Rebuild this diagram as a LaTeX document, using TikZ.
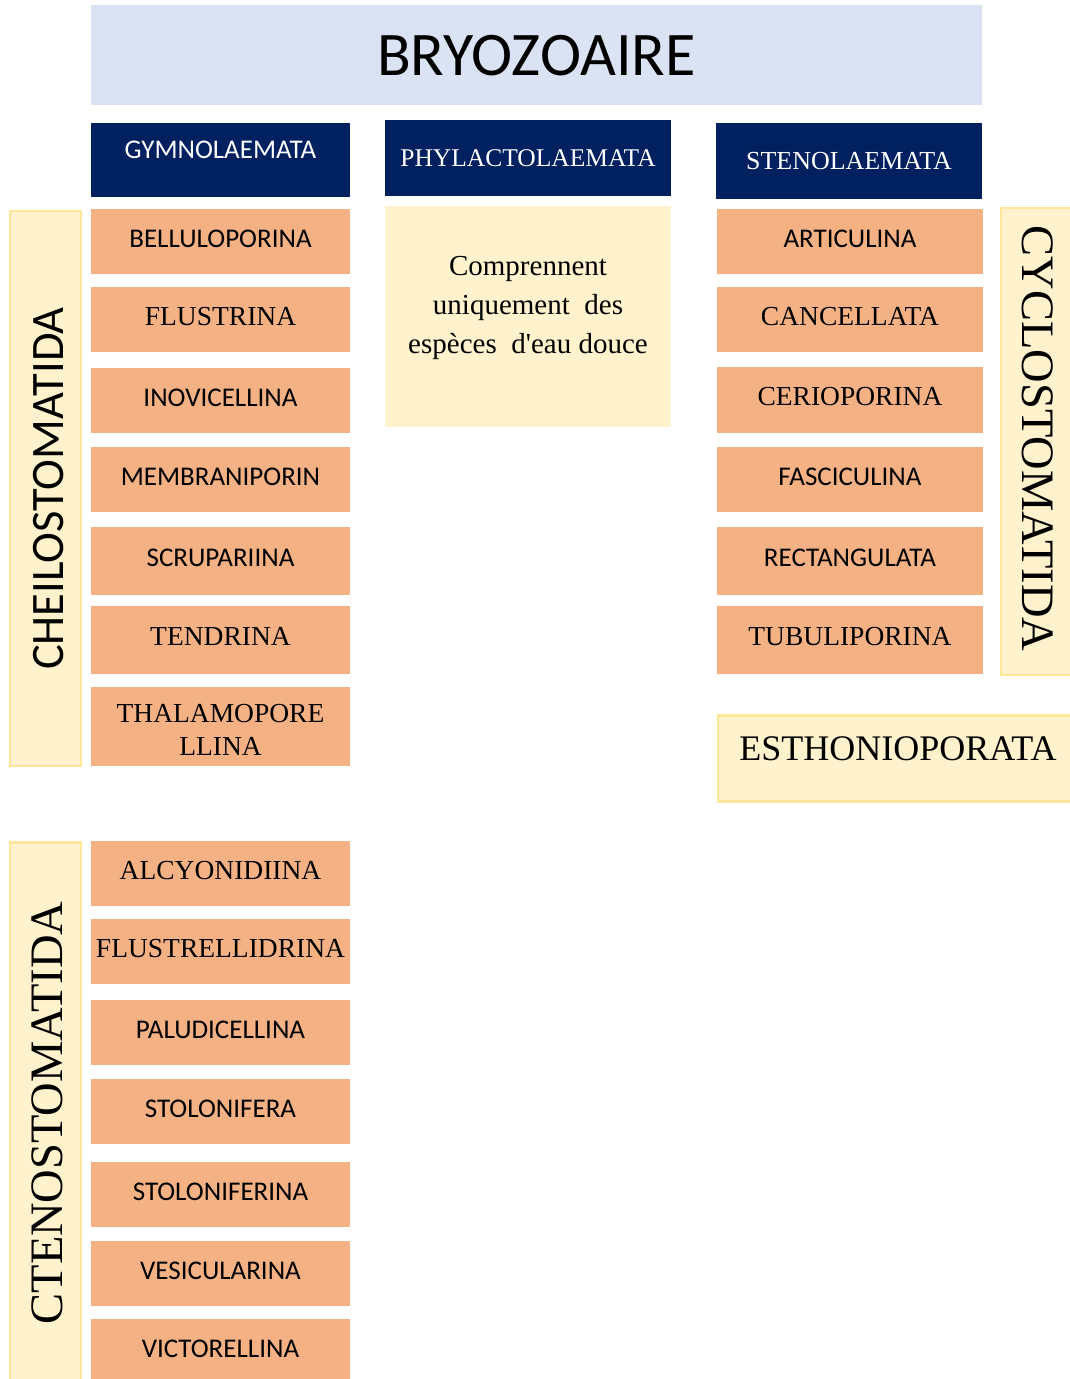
\documentclass[tikz,border=0pt]{standalone}
\usepackage{fontspec}
\setmainfont{Liberation Serif}
\newfontfamily\calib{Carlito}
\newfontfamily\plainserif{Liberation Serif}[Ligatures=TeXOff]
\definecolor{navy}{HTML}{002060}
\definecolor{peach}{HTML}{F4B183}
\definecolor{cream}{HTML}{FFF2CC}
\definecolor{creamline}{HTML}{FFE699}
\definecolor{paleblue}{HTML}{DAE3F3}
\tikzset{
  subbox/.style={fill=peach, inner sep=0pt, minimum width=259pt, minimum height=65pt, text height=18pt, text depth=7pt},
  subboxR/.style={subbox, minimum width=266pt},
  sansT/.style={font=\calib\fontsize{27}{32}\selectfont},
  serifT/.style={font=\fontsize{27.5}{32}\selectfont},
  classbox/.style={fill=navy, text=white, inner sep=0pt},
  orderbox/.style={fill=cream, draw=creamline, line width=2.5pt, inner sep=0pt},
}
\begin{document}
\begin{tikzpicture}[x=1pt,y=-1pt]
\clip (0,0) rectangle (1070,1379);
\fill[white] (0,0) rectangle (1070,1379);
% title
\node[fill=paleblue, minimum width=891pt, minimum height=100pt, inner sep=0pt, font=\calib\fontsize{62}{70}\selectfont, text height=40pt, text depth=0pt] (root) at (536.5,55) {BRYOZOAIRE};
% classes
\node[classbox, minimum width=259pt, minimum height=74pt, font=\calib\fontsize{27}{30}\selectfont, text height=17pt, text depth=21pt] (gym) at (220.5,160) {GYMNOLAEMATA};
\node[classbox, minimum width=286pt, minimum height=76pt, font=\fontsize{25.5}{28}\selectfont, text height=16pt, text depth=0pt] (phy) at (528,158) {PHYLACTOLAEMATA};
\node[classbox, minimum width=266pt, minimum height=76pt, font=\fontsize{26}{30}\selectfont, text height=17pt, text depth=0pt] (sten) at (849,161) {STENOLAEMATA};
% phylactolaemata note
\node[fill=cream, minimum width=286pt, minimum height=221pt, inner sep=0pt] (note) at (528,316.5) {};
\node[font=\plainserif\fontsize{29}{39}\selectfont, align=center, inner sep=0pt] (notetext) at ([yshift=9pt]note.center) {Comprennent\\uniquement\ \ des\\esp\`eces\ \ d'eau douce};
% orders (vertical)
\node[orderbox, minimum width=71pt, minimum height=555pt] (cheilo) at (45.5,488.5) {};
\node[rotate=90, font=\calib\fontsize{46.5}{56}\selectfont, inner sep=0pt] (cheilotext) at ([xshift=3pt]cheilo.center) {CHEILOSTOMATIDA};
\node[orderbox, minimum width=71pt, minimum height=541pt] (cteno) at (45.5,1113) {};
\node[rotate=90, font=\fontsize{46.5}{56}\selectfont, inner sep=0pt] (ctenotext) at ([xshift=2pt,yshift=0pt]cteno.center) {CTENOSTOMATIDA};
\node[orderbox, minimum width=74pt, minimum height=467pt] (cyclo) at (1038,441.5) {};
\node[rotate=-90, font=\fontsize{46.5}{56}\selectfont, inner sep=0pt] (cyclotext) at ([yshift=3pt]cyclo.center) {CYCLOSTOMATIDA};
% esthonioporata
\node[orderbox, minimum width=360pt, minimum height=86pt, font=\fontsize{36}{42}\selectfont, text height=24pt, text depth=21pt] (estho) at (898,758.5) {ESTHONIOPORATA};
% left column (cheilostomatida)
\node[subbox, sansT] (bell) at (220.5,241.5) {BELLULOPORINA};
\node[subbox, serifT] (flus) at (220.5,319.5) {FLUSTRINA};
\node[subbox, sansT] (inov) at (220.5,400.5) {INOVICELLINA};
\node[subbox, sansT] (memb) at (220.5,479.5) {MEMBRANIPORIN};
\node[subbox, sansT, minimum height=68pt] (scru) at (220.5,561) {SCRUPARIINA};
\node[subbox, serifT, minimum height=68pt] (tend) at (220.5,640) {TENDRINA};
\node[subbox, serifT, minimum height=79pt, text height=, text depth=, align=center, font=\fontsize{27.5}{33}\selectfont] (thal) at (220.5,726.5) {\rule{0pt}{25pt}THALAMOPORE\\LLINA};
% left column (ctenostomatida)
\node[subbox, serifT] (alcy) at (220.5,873.5) {ALCYONIDIINA};
\node[subbox, serifT] (flst) at (220.5,951.5) {FLUSTRELLIDRINA};
\node[subbox, sansT] (palu) at (220.5,1032.5) {PALUDICELLINA};
\node[subbox, sansT] (stol) at (220.5,1111.5) {STOLONIFERA};
\node[subbox, sansT] (stfn) at (220.5,1194.5) {STOLONIFERINA};
\node[subbox, sansT] (vesi) at (220.5,1273.5) {VESICULARINA};
\node[subbox, sansT] (vict) at (220.5,1351.5) {VICTORELLINA};
% right column (cyclostomatida)
\node[subboxR, sansT] (arti) at (850,241.5) {ARTICULINA};
\node[subboxR, serifT] (canc) at (850,319.5) {CANCELLATA};
\node[subboxR, serifT, minimum height=66pt] (ceri) at (850,400) {CERIOPORINA};
\node[subboxR, sansT] (fasc) at (850,479.5) {FASCICULINA};
\node[subboxR, sansT, minimum height=68pt] (rect) at (850,561) {RECTANGULATA};
\node[subboxR, serifT, minimum height=68pt] (tubu) at (850,640) {TUBULIPORINA};
\end{tikzpicture}
\end{document}
